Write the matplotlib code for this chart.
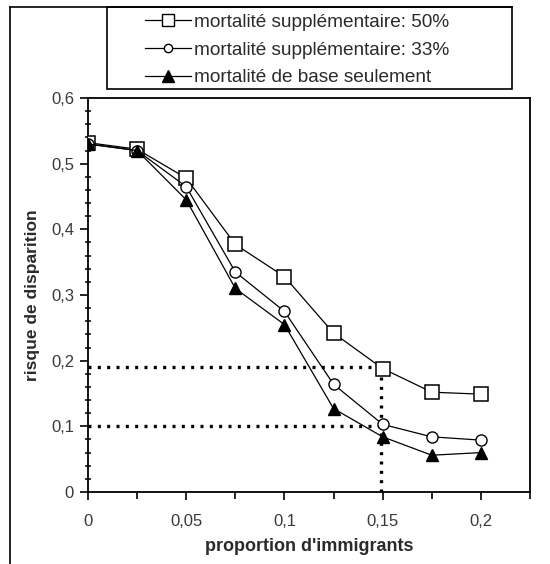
import matplotlib
matplotlib.use("Agg")
import matplotlib.pyplot as plt
from matplotlib.ticker import MultipleLocator, FuncFormatter
from matplotlib.lines import Line2D
from matplotlib.patches import Rectangle

plt.rcParams['font.family'] = ['Liberation Sans', 'DejaVu Sans']

# proportion of immigrants
prop = [0, 0.025, 0.05, 0.075, 0.1, 0.125, 0.15, 0.175, 0.2]
# extinction risk, three scenarios
mort_50 = [0.532, 0.522, 0.478, 0.377, 0.328, 0.242, 0.188, 0.152, 0.149]
mort_33 = [0.530, 0.520, 0.465, 0.335, 0.275, 0.164, 0.103, 0.084, 0.079]
mort_base = [0.530, 0.520, 0.445, 0.310, 0.255, 0.127, 0.084, 0.056, 0.060]
labels = ['mortalité supplémentaire: 50%',
          'mortalité supplémentaire: 33%',
          'mortalité de base seulement']
# reference lines (dotted)
ref_x = 0.149
ref_levels = [0.19, 0.10]

W, H = 550, 564
fig = plt.figure(figsize=(W/100, H/100), dpi=100)
ax = fig.add_axes([88/W, 1-492/H, (530-88)/W, (492-98)/H])

ax.plot(prop, mort_50, color='black', lw=0.9, marker='s', ms=9.5,
        mfc='white', mec='black', mew=1.1, zorder=3)
ax.plot(prop, mort_33, color='black', lw=0.9, marker='o', ms=8,
        mfc='white', mec='black', mew=1.0, zorder=4)
ax.plot(prop, mort_base, color='black', lw=0.9, marker='^', ms=9,
        mfc='black', mec='black', zorder=5)

for lv in ref_levels:
    ax.plot([0, ref_x], [lv, lv], color='black', lw=2.4,
            dashes=(0.9, 1.9), zorder=2)
ax.plot([ref_x, ref_x], [0, ref_levels[0]], color='black', lw=2.4,
        dashes=(0.9, 1.9), zorder=2)

ax.set_xlim(0, 0.225)
ax.set_ylim(0, 0.6)
ax.xaxis.set_major_locator(MultipleLocator(0.05))
ax.xaxis.set_minor_locator(MultipleLocator(0.025))
ax.yaxis.set_major_locator(MultipleLocator(0.1))
ax.yaxis.set_minor_locator(MultipleLocator(0.02))

def comma(v, pos):
    s = ('%.3f' % v).rstrip('0').rstrip('.')
    return s.replace('.', ',')

ax.xaxis.set_major_formatter(FuncFormatter(comma))
ax.yaxis.set_major_formatter(FuncFormatter(comma))

ax.tick_params(axis='both', which='major', direction='out', length=6,
               width=1.2, labelsize=12, labelcolor='#3a3a3a', pad=4)
ax.tick_params(axis='x', which='minor', direction='out', length=5, width=1.2)
ax.tick_params(axis='y', which='minor', direction='inout', length=5, width=1.1)
ax.tick_params(axis='x', which='major', pad=10)

for sp in ax.spines.values():
    sp.set_linewidth(1.3)

ax.set_xlabel("proportion d'immigrants", fontsize=13, fontweight='bold',
              color='#2a2a2a', labelpad=6)
ax.set_ylabel('risque de disparition', fontsize=12.5, fontweight='bold',
              color='#2a2a2a', labelpad=8)

# outer frame lines (left and top)
fig.add_artist(Line2D([10/W, 10/W], [0, 1-7/H], color='black', lw=1.2))
fig.add_artist(Line2D([10/W, 512/W], [1-7/H, 1-7/H], color='black', lw=1.2))

# legend box
fig.add_artist(Rectangle((107/W, 1-89/H), (512-107)/W, (89-7)/H,
                         fill=False, edgecolor='black', lw=1.2,
                         transform=fig.transFigure))

handles = [
    Line2D([], [], color='black', lw=0.9, marker='s', ms=8, mfc='white', mec='black'),
    Line2D([], [], color='black', lw=0.9, marker='o', ms=6, mfc='white', mec='black'),
    Line2D([], [], color='black', lw=0.9, marker='^', ms=8, mfc='black', mec='black'),
]
leg = fig.legend(handles, labels, loc='center left',
                 bbox_to_anchor=(145/W, 1-50/H),
                 fontsize=13.7, frameon=False, handlelength=2.4,
                 handletextpad=0.2, labelspacing=0.55, borderpad=0.0,
                 borderaxespad=0.0, labelcolor='#2a2a2a')

fig.savefig('out.png', dpi=100)
